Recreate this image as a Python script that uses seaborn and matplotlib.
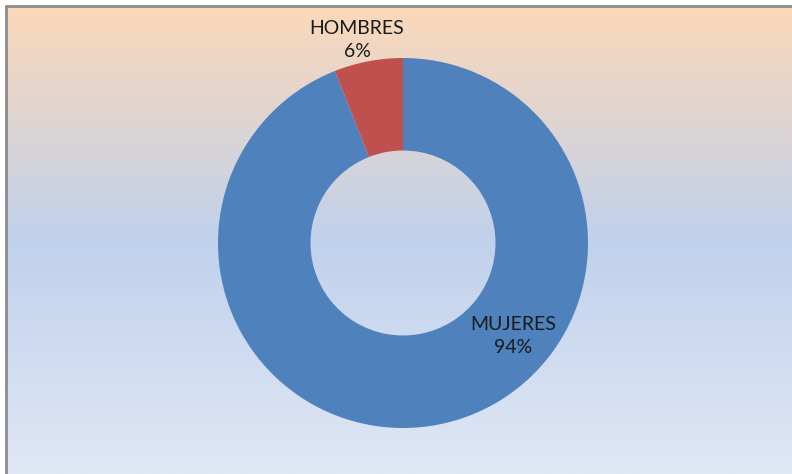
import numpy as np
import matplotlib
matplotlib.use("Agg")
import matplotlib.pyplot as plt
import seaborn as sns
from matplotlib.colors import LinearSegmentedColormap

categories = ["MUJERES", "HOMBRES"]
values = [94, 6]
pct_labels = ["94%", "6%"]

sns.set_style("white")
plt.rcParams['font.family'] = ['Lato', 'DejaVu Sans']

W, H = 792, 474
fig = plt.figure(figsize=(W / 100, H / 100), dpi=100)
fig.patch.set_facecolor("white")

# background gradient (chart area starts at x=6, y=6 from top-left)
bg = fig.add_axes([6 / W, 0, 1 - 6 / W, (H - 6) / H])
cmap = LinearSegmentedColormap.from_list(
    "bg", [(0.0, "#FBD8B9"), (0.50, "#C0D1EC"), (1.0, "#E0E7F5")])
grad = np.linspace(0, 1, 256).reshape(-1, 1)
bg.imshow(grad, aspect="auto", cmap=cmap, extent=[0, 1, 0, 1], origin="upper")
bg.set_axis_off()

# border lines (top and left)
fig.add_artist(plt.Line2D([5.5 / W, 1], [1 - 5.5 / H, 1 - 5.5 / H],
                          color="#8C8C8C", lw=2, transform=fig.transFigure))
fig.add_artist(plt.Line2D([5.5 / W, 5.5 / W], [0, 1 - 5.5 / H],
                          color="#8C8C8C", lw=2, transform=fig.transFigure))

ax = fig.add_axes([0, 0, 1, 1])
ax.set_facecolor("none")
R = 185.0
cx, cy = 403.0, 243.0

colors = ["#4F81BD", "#C0504D"]
wedges, _ = ax.pie(values, colors=colors, startangle=90, counterclock=False,
                   radius=1.0, wedgeprops=dict(width=0.5, edgecolor="none"))
ax.set_xlim(-cx / R, (W - cx) / R)
ax.set_ylim(-(H - cy) / R, cy / R)
ax.set_aspect("equal")
ax.set_axis_off()

# labels
label_pos = {"HOMBRES": ((357 - cx) / R, (cy - 40) / R),
             "MUJERES": ((513 - cx) / R, (cy - 336) / R)}
for cat, pct in zip(categories, pct_labels):
    x, y = label_pos[cat]
    ax.text(x, y, f"{cat}\n{pct}", ha="center", va="center",
            fontsize=14, color="#1A1A1A", linespacing=1.45)

fig.savefig("out.png", dpi=100, facecolor=fig.get_facecolor())
